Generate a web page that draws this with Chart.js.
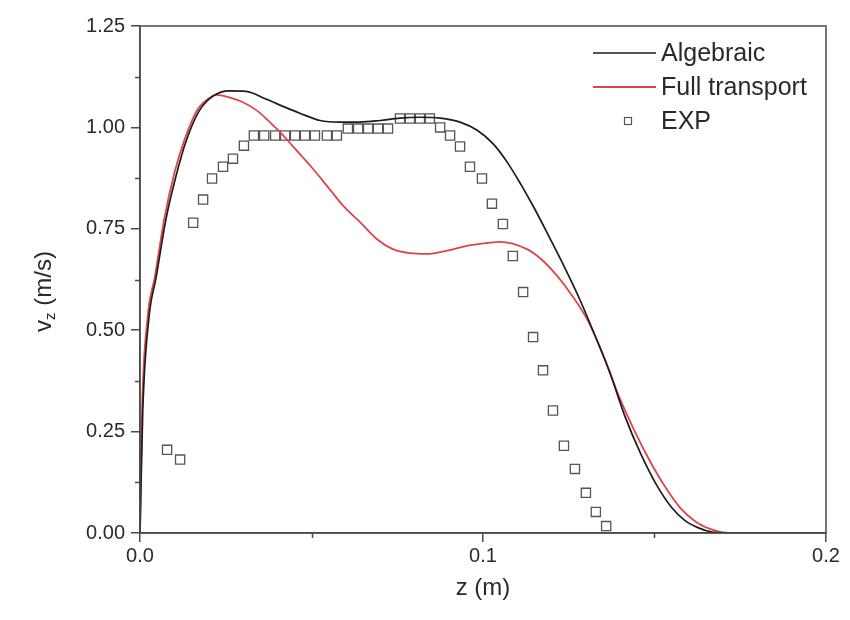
<!DOCTYPE html>
<html lang="en">
<head>
    <meta charset="UTF-8">
    <title>Velocity profile</title>
    <script src="https://cdn.jsdelivr.net/npm/chart.js"></script>
    <style>
        body { margin: 0; background: #fff; }
    </style>
</head>
<body>
    <canvas id="profileChart" width="850" height="620"></canvas>
    <script>
        // z (m) and v_z (m/s) for each series
        const algebraicZ = [0, 0.0008, 0.0026, 0.0047, 0.0076, 0.0105, 0.0134, 0.0172, 0.0213, 0.026, 0.0309, 0.0367,
            0.0408, 0.0466, 0.0525, 0.0583, 0.0641, 0.07, 0.0758, 0.0816, 0.0875, 0.0933, 0.0983, 0.1029, 0.107,
            0.111, 0.115, 0.119, 0.1235, 0.128, 0.1325, 0.137, 0.1415, 0.146, 0.1505, 0.155, 0.159, 0.163, 0.1668,
            0.17, 0.2];
        const algebraicV = [0, 0.3, 0.53, 0.63, 0.775, 0.88, 0.965, 1.04, 1.077, 1.09, 1.089, 1.07,
            1.055, 1.035, 1.017, 1.013, 1.013, 1.017, 1.023, 1.025, 1.023, 1.013, 0.993, 0.96, 0.915,
            0.86, 0.8, 0.735, 0.66, 0.58, 0.49, 0.395, 0.285, 0.195, 0.12, 0.063, 0.03, 0.012, 0.002,
            0, 0];

        const transportZ = [0, 0.0006, 0.0022, 0.0043, 0.0072, 0.0101, 0.013, 0.0165, 0.0198, 0.0222, 0.026, 0.03,
            0.034, 0.038, 0.042, 0.0446, 0.0496, 0.0545, 0.0592, 0.0641, 0.069, 0.0737, 0.0787, 0.0837, 0.0895,
            0.0953, 0.1012, 0.105, 0.1128, 0.117, 0.1215, 0.126, 0.1305, 0.135, 0.1395, 0.144, 0.1485, 0.153,
            0.1575, 0.162, 0.1662, 0.1695, 0.172, 0.2];
        const transportV = [0, 0.3, 0.53, 0.63, 0.78, 0.89, 0.97, 1.04, 1.07, 1.08, 1.074, 1.062,
            1.042, 1.012, 0.978, 0.953, 0.906, 0.856, 0.807, 0.767, 0.725, 0.7, 0.69, 0.688, 0.696,
            0.708, 0.715, 0.718, 0.7, 0.675, 0.635, 0.585, 0.525, 0.44, 0.34, 0.255, 0.18, 0.115,
            0.062, 0.028, 0.01, 0.002, 0, 0];

        const expZ = [0.0079, 0.0117, 0.0155, 0.0184, 0.021, 0.0242, 0.0271, 0.0303, 0.0332, 0.0362, 0.0394, 0.0423,
            0.0452, 0.0481, 0.051, 0.0545, 0.0574, 0.0606, 0.0636, 0.0665, 0.0694, 0.0723, 0.0758, 0.0787, 0.0816,
            0.0845, 0.0875, 0.0904, 0.0933, 0.0962, 0.0997, 0.1026, 0.1058, 0.1087, 0.1117, 0.1146, 0.1175, 0.1204,
            0.1236, 0.1268, 0.13, 0.1329, 0.1359];
        const expV = [0.205, 0.181, 0.765, 0.822, 0.874, 0.903, 0.923, 0.955, 0.98, 0.98, 0.98, 0.98,
            0.98, 0.98, 0.98, 0.98, 0.98, 0.997, 0.997, 0.997, 0.997, 0.997, 1.022, 1.022, 1.022,
            1.022, 1.0, 0.98, 0.953, 0.903, 0.874, 0.812, 0.762, 0.683, 0.594, 0.483, 0.401, 0.302,
            0.215, 0.158, 0.099, 0.052, 0.017];

        const xTicks = [0, 0.1, 0.2];
        const xMinor = [0.05, 0.15];
        const yTicks = [0, 0.25, 0.5, 0.75, 1.0, 1.25];
        const yMinor = [0.125, 0.375, 0.625, 0.875, 1.125];

        function toPoints(xs, ys) {
            return xs.map((x, i) => ({ x: x, y: ys[i] }));
        }

        const textColor = '#2a2a2a';
        const axisColor = '#4a4a4a';
        const fontFamily = 'Arial, "Liberation Sans", sans-serif';

        // frame, minor ticks, axis titles and the legend in the upper right
        const decorations = {
            id: 'decorations',
            afterDraw(chart) {
                const ctx = chart.ctx;
                const area = chart.chartArea;
                const xs = chart.scales.x;
                const ys = chart.scales.y;
                ctx.save();
                ctx.strokeStyle = axisColor;
                ctx.lineWidth = 1.5;
                ctx.strokeRect(area.left, area.top, area.right - area.left, area.bottom - area.top);

                ctx.beginPath();
                xMinor.forEach(v => {
                    const px = Math.round(xs.getPixelForValue(v)) + 0.5;
                    ctx.moveTo(px, area.bottom);
                    ctx.lineTo(px, area.bottom + 5);
                });
                yMinor.forEach(v => {
                    const py = Math.round(ys.getPixelForValue(v)) + 0.5;
                    ctx.moveTo(area.left, py);
                    ctx.lineTo(area.left - 5, py);
                });
                ctx.stroke();

                ctx.fillStyle = textColor;
                ctx.textBaseline = 'middle';

                // x title
                ctx.font = '24px ' + fontFamily;
                ctx.textAlign = 'center';
                ctx.fillText('z (m)', (area.left + area.right) / 2, 588);

                // y title with subscript
                ctx.save();
                ctx.translate(44, (area.top + area.bottom) / 2 + 12);
                ctx.rotate(-Math.PI / 2);
                ctx.textAlign = 'left';
                const partA = 'v';
                const partB = 'z';
                const partC = ' (m/s)';
                ctx.font = '24px ' + fontFamily;
                const wA = ctx.measureText(partA).width;
                const wC = ctx.measureText(partC).width;
                ctx.font = '15px ' + fontFamily;
                const wB = ctx.measureText(partB).width;
                let start = -(wA + wB + wC) / 2;
                ctx.font = '24px ' + fontFamily;
                ctx.fillText(partA, start, 0);
                ctx.font = '15px ' + fontFamily;
                ctx.fillText(partB, start + wA, 7);
                ctx.font = '24px ' + fontFamily;
                ctx.fillText(partC, start + wA + wB, 0);
                ctx.restore();

                // legend
                const rows = [53, 87, 121];
                ctx.font = '25px ' + fontFamily;
                ctx.textAlign = 'left';
                chart.data.datasets.forEach((ds, i) => {
                    const y = rows[i];
                    ctx.strokeStyle = ds.borderColor;
                    if (ds.showLine === false) {
                        ctx.lineWidth = 1.2;
                        ctx.strokeRect(624.5, y - 3.5, 7, 7);
                    } else {
                        ctx.lineWidth = ds.borderWidth;
                        ctx.beginPath();
                        ctx.moveTo(593, y);
                        ctx.lineTo(656, y);
                        ctx.stroke();
                    }
                    ctx.fillStyle = textColor;
                    ctx.fillText(ds.label, 661, y + 1);
                });
                ctx.restore();
            }
        };

        const ctx = document.getElementById('profileChart').getContext('2d');
        const chart = new Chart(ctx, {
            type: 'scatter',
            data: {
                datasets: [{
                    label: 'Algebraic',
                    data: toPoints(algebraicZ, algebraicV),
                    showLine: true,
                    borderColor: '#1c1c1c',
                    borderWidth: 1.7,
                    pointRadius: 0,
                    cubicInterpolationMode: 'monotone'
                }, {
                    label: 'Full transport',
                    data: toPoints(transportZ, transportV),
                    showLine: true,
                    borderColor: '#de4549',
                    borderWidth: 1.8,
                    pointRadius: 0,
                    cubicInterpolationMode: 'monotone'
                }, {
                    label: 'EXP',
                    data: toPoints(expZ, expV),
                    showLine: false,
                    pointStyle: 'rect',
                    pointRadius: 6.5,
                    pointBorderWidth: 1.3,
                    borderColor: '#555555',
                    backgroundColor: 'rgba(0,0,0,0)'
                }]
            },
            options: {
                responsive: false,
                animation: false,
                layout: { padding: { top: 26, right: 24, left: 0, bottom: 0 } },
                plugins: {
                    legend: { display: false },
                    tooltip: { enabled: false }
                },
                scales: {
                    x: {
                        type: 'linear',
                        min: 0,
                        max: 0.2,
                        afterFit(scale) { scale.height = 87; },
                        afterBuildTicks(scale) { scale.ticks = xTicks.map(v => ({ value: v })); },
                        ticks: {
                            autoSkip: false,
                            maxRotation: 0,
                            padding: 2,
                            color: textColor,
                            font: { size: 20, family: fontFamily },
                            callback: v => v.toFixed(1)
                        },
                        grid: { drawOnChartArea: false, drawTicks: true, tickLength: 9, color: axisColor, lineWidth: 1.5 },
                        border: { color: axisColor, width: 1.5 }
                    },
                    y: {
                        type: 'linear',
                        min: 0,
                        max: 1.25,
                        afterFit(scale) { scale.width = 140; },
                        afterBuildTicks(scale) { scale.ticks = yTicks.map(v => ({ value: v })); },
                        ticks: {
                            autoSkip: false,
                            padding: 6,
                            color: textColor,
                            font: { size: 20, family: fontFamily },
                            callback: v => v.toFixed(2)
                        },
                        grid: { drawOnChartArea: false, drawTicks: true, tickLength: 9, color: axisColor, lineWidth: 1.5 },
                        border: { color: axisColor, width: 1.5 }
                    }
                }
            },
            plugins: [decorations]
        });
    </script>
</body>
</html>
